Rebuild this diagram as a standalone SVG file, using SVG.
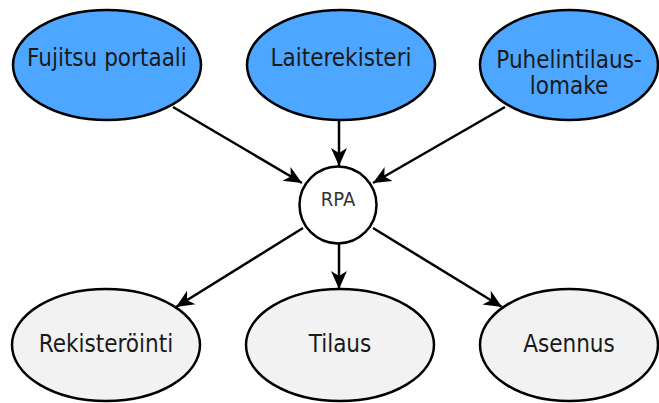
<svg xmlns="http://www.w3.org/2000/svg" width="659" height="403" viewBox="0 0 659 403">
<style>
.src{fill:#4da6ff;stroke:#000;stroke-width:2.5}
.dst{fill:#f2f2f2;stroke:#000;stroke-width:2.5}
.hub{fill:#fff;stroke:#000;stroke-width:2.5}
.lbl{font-family:"DejaVu Sans Condensed","DejaVu Sans",sans-serif;font-stretch:condensed;font-size:24px;fill:#1a1a1a;text-anchor:middle}
.small{font-family:"DejaVu Sans Condensed","DejaVu Sans",sans-serif;font-stretch:condensed;font-size:20px;fill:#333;text-anchor:middle}
.edge{stroke:#000;stroke-width:2.5;fill:none;marker-end:url(#arr)}
</style>
<defs>
<marker id="arr" markerUnits="userSpaceOnUse" markerWidth="20" markerHeight="18" refX="18" refY="9" orient="auto">
<path d="M0,1 L18,9 L0,17 L5,9 z" fill="#000"/>
</marker>
</defs>
<rect width="659" height="403" fill="#fff"/>
<g id="connectors">
<line class="edge" x1="173" y1="107" x2="302" y2="183"/>
<line class="edge" x1="339" y1="121" x2="339" y2="166"/>
<line class="edge" x1="505" y1="107" x2="373" y2="183"/>
<line class="edge" x1="303" y1="228" x2="176" y2="307"/>
<line class="edge" x1="339" y1="244" x2="339" y2="289"/>
<line class="edge" x1="373" y1="228" x2="502" y2="307"/>
</g>
<g id="fujitsu">
<ellipse class="src" cx="107" cy="65" rx="94" ry="55"/>
<text class="lbl" x="107" y="66">Fujitsu portaali</text>
</g>
<g id="laiterekisteri">
<ellipse class="src" cx="341" cy="65" rx="94" ry="55"/>
<text class="lbl" x="341" y="66">Laiterekisteri</text>
</g>
<g id="puhelintilaus">
<ellipse class="src" cx="569" cy="65" rx="89" ry="55"/>
<text class="lbl" x="569" y="68">Puhelintilaus-</text>
<text class="lbl" x="569" y="94">lomake</text>
</g>
<g id="rpa">
<circle class="hub" cx="338" cy="205" r="38.5"/>
<text class="small" x="338" y="206">RPA</text>
</g>
<g id="rekisterointi">
<ellipse class="dst" cx="106" cy="345" rx="94" ry="56"/>
<text class="lbl" x="106" y="352">Rekisteröinti</text>
</g>
<g id="tilaus">
<ellipse class="dst" cx="340" cy="345" rx="94" ry="56"/>
<text class="lbl" x="340" y="352">Tilaus</text>
</g>
<g id="asennus">
<ellipse class="dst" cx="569" cy="345" rx="89" ry="56"/>
<text class="lbl" x="569" y="352">Asennus</text>
</g>
</svg>
